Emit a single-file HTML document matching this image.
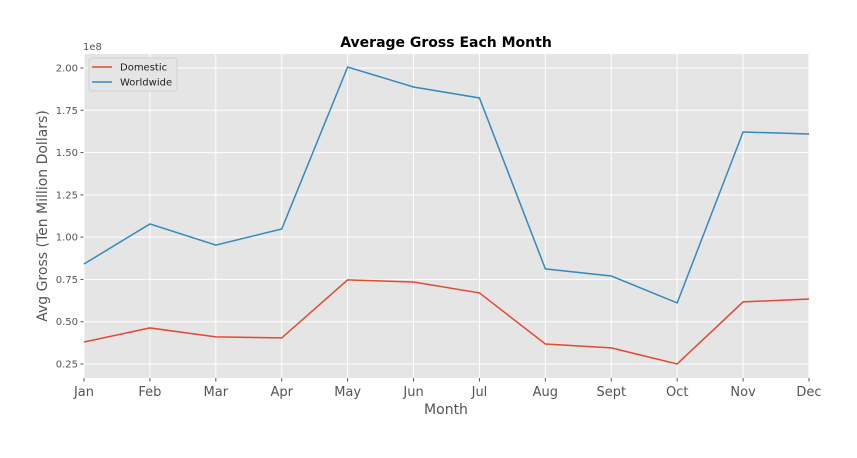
<!DOCTYPE html>
<html><head><meta charset="utf-8"><style>
body{margin:0;background:#fff;}
svg{font-family:"DejaVu Sans","Liberation Sans",sans-serif;}
</style></head><body>
<svg id="chart" width="857" height="453">
<text x="446" y="47" text-anchor="middle" font-size="14" font-weight="bold">Average Gross Each Month</text>
</svg>
<script>
const months=["Jan","Feb","Mar","Apr","May","Jun","Jul","Aug","Sept","Oct","Nov","Dec"];
const worldwide=[0.841,1.078,0.953,1.048,2.006,1.888,1.823,0.812,0.770,0.611,1.622,1.610];
const domestic=[0.380,0.463,0.410,0.404,0.747,0.735,0.670,0.368,0.345,0.250,0.617,0.634];
const yTicks=[0.25,0.5,0.75,1.0,1.25,1.5,1.75,2.0];
const yTickLabels=["0.25","0.50","0.75","1.00","1.25","1.50","1.75","2.00"];
const X0=84,X1=809,Y0=54,Y1=378,YMIN=0.167,YMAX=2.083;
const svg=document.getElementById('chart');const NS="http://www.w3.org/2000/svg";
const xs=i=>X0+(X1-X0)*i/(months.length-1);
const ys=v=>Y1-(v-YMIN)/(YMAX-YMIN)*(Y1-Y0);
function mk(t,a,p){const e=document.createElementNS(NS,t);for(const k in a)e.setAttribute(k,a[k]);(p||svg).appendChild(e);return e;}
const bg=mk('rect',{x:X0,y:Y0,width:X1-X0,height:Y1-Y0,fill:'#e5e5e5'});


yTicks.forEach((v,i)=>{const y=ys(v);
const g=mk('line',{x1:X0,x2:X1,y1:y,y2:y,stroke:'#fff','stroke-width':1});


mk('line',{x1:X0-3.5,x2:X0,y1:y,y2:y,stroke:'#555'});
const t=mk('text',{x:X0-6,y:y+3.5,'text-anchor':'end','font-size':'10',fill:'#555'});t.textContent=yTickLabels[i];

});
months.forEach((m,i)=>{const x=xs(i);
const g=mk('line',{x1:x,x2:x,y1:Y0,y2:Y1,stroke:'#fff','stroke-width':1});


mk('line',{x1:x,x2:x,y1:Y1,y2:Y1+3.5,stroke:'#555'});
const t=mk('text',{x:x,y:Y1+18,'text-anchor':'middle','font-size':'13',fill:'#555'});t.textContent=m;

});
function line(data,color,name){const d=data.map((v,i)=>(i?'L':'M')+xs(i)+','+ys(v)).join('');
const p=mk('path',{d:d,fill:'none',stroke:color,'stroke-width':1.5});

}
line(domestic,'#e24a33','domestic-line');
line(worldwide,'#348abd','worldwide-line');
const e=mk('text',{x:X0-1,y:50,'font-size':'10',fill:'#555'});e.textContent='1e8';


const xl=mk('text',{x:446,y:414,'text-anchor':'middle','font-size':'14',fill:'#555'});xl.textContent='Month';


const yl=mk('text',{x:0,y:0,'text-anchor':'middle','font-size':'14',fill:'#555',transform:'translate(47,216) rotate(-90)'});yl.textContent='Avg Gross (Ten Million Dollars)';


const lg=mk('g',{});


mk('rect',{x:89,y:58,width:88,height:33,rx:3,fill:'#e5e5e5',stroke:'#ccc','stroke-opacity':0.8},lg);
[['Domestic','#e24a33',67],['Worldwide','#348abd',82]].forEach(([n,c,y])=>{
mk('line',{x1:92,x2:112,y1:y,y2:y,stroke:c,'stroke-width':1.5},lg);
const t=mk('text',{x:120,y:y+3.5,'font-size':'10',fill:'#222'},lg);t.textContent=n;

});
</script>
</body></html>
